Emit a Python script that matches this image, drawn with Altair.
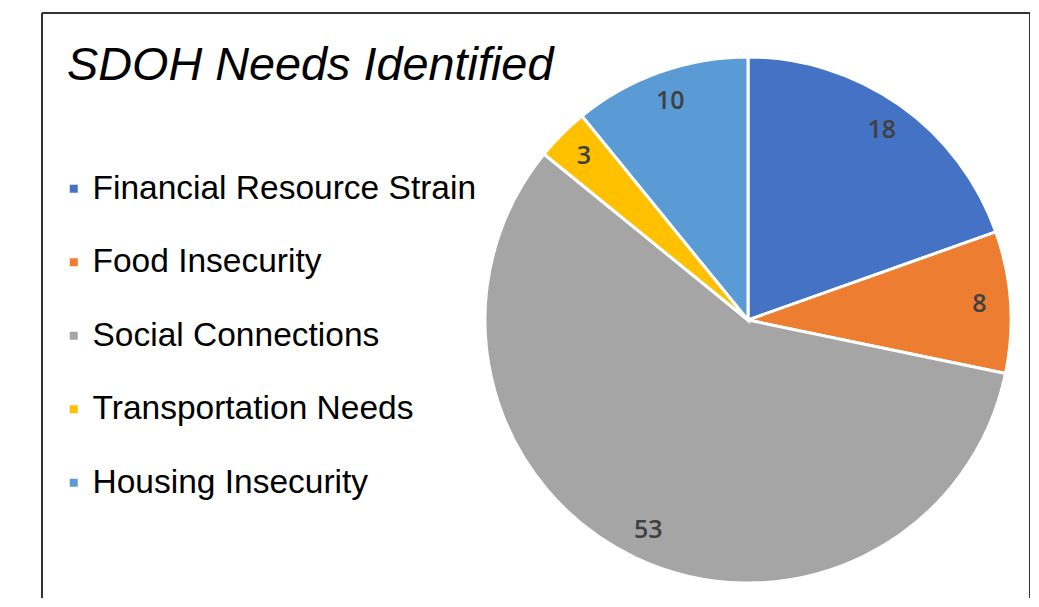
import altair as alt
import pandas as pd

categories = ["Financial Resource Strain", "Food Insecurity", "Social Connections",
              "Transportation Needs", "Housing Insecurity"]
values = [18, 8, 53, 3, 10]
colors = ["#4472C4", "#ED7D31", "#A5A5A5", "#FFC000", "#5B9BD5"]
title_text = "SDOH Needs Identified"

df = pd.DataFrame({"category": categories, "value": values, "idx": list(range(len(categories)))})

W, H = 988, 585
CX, CY = 706, 307
R = 263

color = alt.Color(
    "category:N",
    scale=alt.Scale(domain=categories, range=colors),
    legend=alt.Legend(
        title=None, orient="none", legendX=15, legendY=159,
        symbolType="square", symbolSize=64, symbolStrokeWidth=0,
        labelFontSize=33.5, labelFont="Liberation Sans", labelColor="#000000",
        rowPadding=38.5, labelOffset=2, labelLimit=600,
    ),
)

base = alt.Chart(df).encode(
    theta=alt.Theta("value:Q", stack=True),
    order=alt.Order("idx:Q"),
)

pie = base.mark_arc(outerRadius=R, stroke="white", strokeWidth=3).encode(
    color=color, x=alt.value(CX), y=alt.value(CY)
)

labels = base.mark_text(radius=232, fontSize=25, font="Open Sans", fontWeight=600,
                        color="#404040").encode(
    text="value:Q", x=alt.value(CX), y=alt.value(CY)
)

title = alt.Chart(pd.DataFrame({"t": [title_text]})).mark_text(
    align="left", baseline="alphabetic", fontSize=46.8, fontStyle="italic",
    font="Liberation Sans", color="#000000"
).encode(text="t:N", x=alt.value(25), y=alt.value(67))

frame_df = pd.DataFrame({"k": [0]})
left = alt.Chart(frame_df).mark_rule(color="#333333", strokeWidth=2).encode(
    x=alt.value(0), y=alt.value(0), y2=alt.value(H))
top = alt.Chart(frame_df).mark_rule(color="#333333", strokeWidth=2).encode(
    x=alt.value(0), x2=alt.value(W), y=alt.value(0))
right = alt.Chart(frame_df).mark_rule(color="#333333", strokeWidth=2).encode(
    x=alt.value(W), y=alt.value(0), y2=alt.value(H))

chart = alt.layer(pie, labels, title, left, top, right).properties(
    width=W, height=H,
    autosize=alt.AutoSizeParams(type="none"),
    padding={"left": 34, "top": 5, "right": 0, "bottom": 0},
    background="white",
).configure_view(stroke=None)

chart.save("out.html", embed_options={"renderer": "svg", "actions": False})
